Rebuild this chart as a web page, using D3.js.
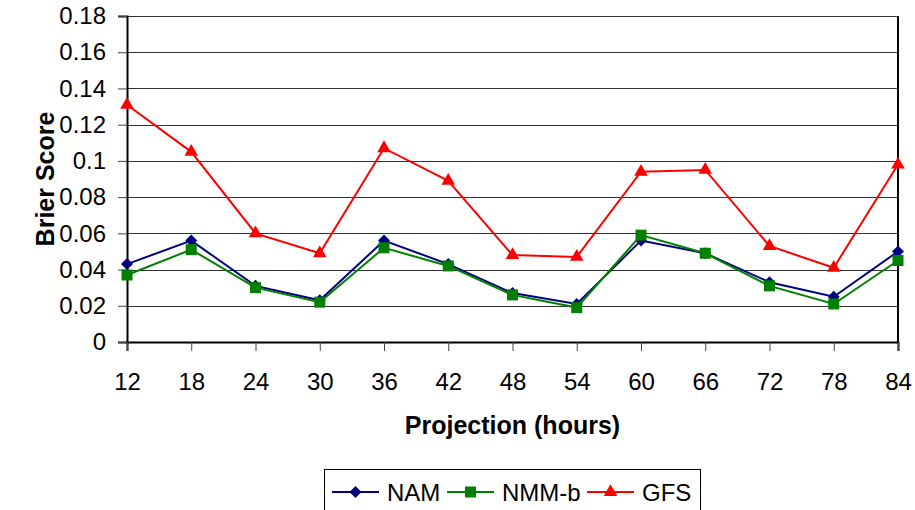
<!DOCTYPE html>
<html>
<head>
<meta charset="utf-8">
<script src="https://cdn.jsdelivr.net/npm/d3@7"></script>
<style>
  body { margin: 0; background: #fff; }
  svg { display: block; font-family: "Liberation Sans", Arial, sans-serif; }
</style>
</head>
<body>
<svg id="chart"></svg>
<script>
// values
const hours = [12, 18, 24, 30, 36, 42, 48, 54, 60, 66, 72, 78, 84];
const nam   = [0.043, 0.056, 0.031, 0.023, 0.056, 0.043, 0.027, 0.021, 0.056, 0.049, 0.033, 0.025, 0.050];
const nmmb  = [0.037, 0.051, 0.030, 0.022, 0.052, 0.042, 0.026, 0.019, 0.059, 0.049, 0.031, 0.021, 0.045];
const gfs   = [0.131, 0.105, 0.060, 0.049, 0.107, 0.089, 0.048, 0.047, 0.094, 0.095, 0.053, 0.041, 0.098];
const yTicks = [0, 0.02, 0.04, 0.06, 0.08, 0.1, 0.12, 0.14, 0.16, 0.18];

const series = [
  { name: "NAM",   values: nam,  color: "#000080", symbol: "diamond" },
  { name: "NMM-b", values: nmmb, color: "#008000", symbol: "square" },
  { name: "GFS",   values: gfs,  color: "#ff0000", symbol: "triangle" }
];

const width = 915, height = 510;
const margin = { top: 16, right: 17, bottom: 168, left: 127 };
const svg = d3.select("#chart").attr("width", width).attr("height", height);

const x = d3.scalePoint()
  .domain(hours)
  .range([margin.left, width - margin.right]);
const y = d3.scaleLinear()
  .domain([0, 0.18])
  .range([height - margin.bottom, margin.top]);

// gridlines
svg.append("g")
  .selectAll("line")
  .data(yTicks.slice(1))
  .enter().append("line")
  .attr("x1", margin.left).attr("x2", width - margin.right)
  .attr("y1", d => Math.round(y(d)) + 0.5).attr("y2", d => Math.round(y(d)) + 0.5)
  .attr("stroke", "#333")
  .attr("stroke-width", 1);

// right border
svg.append("line")
  .attr("x1", width - margin.right).attr("x2", width - margin.right)
  .attr("y1", margin.top).attr("y2", height - margin.bottom)
  .attr("stroke", "#000").attr("stroke-width", 2);

// y axis
const yAxis = svg.append("g")
  .attr("transform", `translate(${margin.left},0)`)
  .call(d3.axisLeft(y).tickValues(yTicks).tickSize(9).tickPadding(12)
    .tickFormat(d => String(+d.toFixed(2))));
yAxis.select(".domain").attr("stroke", "#000").attr("stroke-width", 2);
yAxis.selectAll(".tick line").attr("stroke", "#444");
yAxis.selectAll("text").attr("font-size", 24).attr("fill", "#000");

// x axis
const xAxis = svg.append("g")
  .attr("transform", `translate(0,${height - margin.bottom})`)
  .call(d3.axisBottom(x).tickSize(9).tickPadding(22));
xAxis.select(".domain").attr("stroke", "#000").attr("stroke-width", 2);
xAxis.selectAll(".tick line").attr("stroke", "#444");
xAxis.selectAll("text").attr("font-size", 24).attr("fill", "#000");

// axis titles
svg.append("text")
  .attr("x", (margin.left + width - margin.right) / 2)
  .attr("y", 434)
  .attr("text-anchor", "middle")
  .attr("font-size", 25).attr("font-weight", "bold")
  .text("Projection (hours)");

svg.append("text")
  .attr("transform", `translate(54,${(margin.top + height - margin.bottom) / 2}) rotate(-90)`)
  .attr("text-anchor", "middle")
  .attr("font-size", 25).attr("font-weight", "bold")
  .text("Brier Score");

function markerPath(kind) {
  if (kind === "diamond") return d3.symbol(d3.symbolSquare, 72)();
  if (kind === "square") return d3.symbol(d3.symbolSquare, 121)();
  return d3.symbol(d3.symbolTriangle, 80)();
}

const line = d3.line()
  .x((d, i) => x(hours[i]))
  .y(d => y(d));

// series lines + markers
series.forEach(s => {
  const g = svg.append("g");
  g.append("path")
    .attr("d", line(s.values))
    .attr("fill", "none")
    .attr("stroke", s.color)
    .attr("stroke-width", 2);
  g.selectAll("path.marker")
    .data(s.values)
    .enter().append("path")
    .attr("class", "marker")
    .attr("d", markerPath(s.symbol))
    .attr("transform", (d, i) => `translate(${x(hours[i])},${y(d)})` + (s.symbol === "diamond" ? " rotate(45)" : ""))
    .attr("fill", s.color);
});

// legend
const legend = svg.append("g");
legend.append("rect")
  .attr("x", 324.5).attr("y", 469.5)
  .attr("width", 376).attr("height", 50)
  .attr("fill", "#fff").attr("stroke", "#000").attr("stroke-width", 1);

const legendX = [332, 447, 587];
series.forEach((s, i) => {
  const lg = legend.append("g").attr("transform", `translate(${legendX[i]},492)`);
  lg.append("line")
    .attr("x1", 0).attr("x2", 47)
    .attr("stroke", s.color).attr("stroke-width", 2);
  lg.append("path")
    .attr("d", markerPath(s.symbol))
    .attr("transform", "translate(23.5,0)" + (s.symbol === "diamond" ? " rotate(45)" : ""))
    .attr("fill", s.color);
  lg.append("text")
    .attr("x", 55).attr("y", 8.5)
    .attr("font-size", 24)
    .attr("fill", "#000")
    .text(s.name);
});
</script>
</body>
</html>
